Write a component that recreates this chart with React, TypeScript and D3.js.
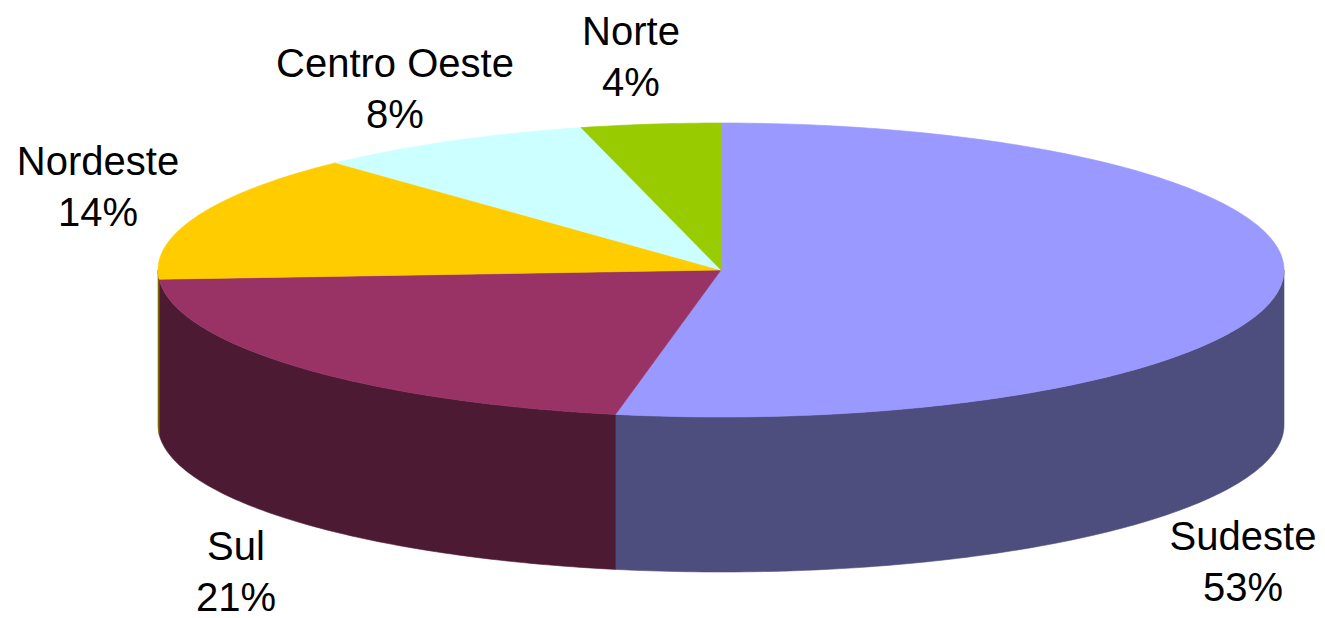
import React from "react";
import * as d3 from "d3";

const categories = ["Sudeste", "Sul", "Nordeste", "Centro Oeste", "Norte"];
const values = [53, 21, 14, 8, 4];
const percentLabels = ["53%", "21%", "14%", "8%", "4%"];
const topColors = ["#9999FF", "#993366", "#FFCC00", "#CCFFFF", "#99CC00"];
const sideColors = ["#4D4D7E", "#4D1A34", "#806600", "#668080", "#4D6600"];
// label anchors (center x, first baseline) – layout only
const labelAnchors: [number, number][] = [
  [1243, 550],
  [236, 560],
  [98, 175],
  [395, 77],
  [631, 45],
];

const W = 1325;
const H = 618;
const CX = 721;
const CY = 270;
const RX = 563;
const RY = 147;
const DEPTH = 155;

function pt(a: number, dy = 0): [number, number] {
  return [CX + RX * Math.sin(a), CY - RY * Math.cos(a) + dy];
}

function arcPoints(a0: number, a1: number, dy = 0): [number, number][] {
  const n = Math.max(2, Math.ceil(((a1 - a0) / (2 * Math.PI)) * 400));
  const pts: [number, number][] = [];
  for (let i = 0; i <= n; i++) pts.push(pt(a0 + ((a1 - a0) * i) / n, dy));
  return pts;
}

export default function App() {
  const pie = d3
    .pie<number>()
    .sort(null)
    .startAngle(0)
    .endAngle(2 * Math.PI);
  const arcs = pie(values);
  const line = d3.line();

  const sides: JSX.Element[] = [];
  arcs.forEach((a, i) => {
    const s = Math.max(a.startAngle, Math.PI / 2);
    const e = Math.min(a.endAngle, (3 * Math.PI) / 2);
    if (e > s) {
      const top = arcPoints(s, e);
      const bottom = arcPoints(s, e, DEPTH).reverse();
      sides.push(
        <path
          key={"s" + i}
          d={line([...top, ...bottom])! + "Z"}
          fill={sideColors[i]}
          stroke={sideColors[i]}
          strokeWidth={0.6}
        />
      );
    }
  });

  const tops = arcs.map((a, i) => {
    const pts: [number, number][] = [[CX, CY], ...arcPoints(a.startAngle, a.endAngle)];
    return (
      <path
        key={"t" + i}
        d={line(pts)! + "Z"}
        fill={topColors[i]}
        stroke={topColors[i]}
        strokeWidth={0.6}
      />
    );
  });

  return (
    <svg
      width={W}
      height={H}
      style={{ position: "absolute", left: 0, top: 0, background: "#fff" }}
    >
      <rect width={W} height={H} fill="#fff" />
      {sides}
      {tops}
      {categories.map((c, i) => (
        <text
          key={"l" + i}
          x={labelAnchors[i][0]}
          y={labelAnchors[i][1]}
          textAnchor="middle"
          fontFamily="'Liberation Sans', Arial, sans-serif"
          fontSize={40}
          fill="#000"
        >
          <tspan x={labelAnchors[i][0]}>{c}</tspan>
          <tspan x={labelAnchors[i][0]} dy={51}>
            {percentLabels[i]}
          </tspan>
        </text>
      ))}
    </svg>
  );
}
